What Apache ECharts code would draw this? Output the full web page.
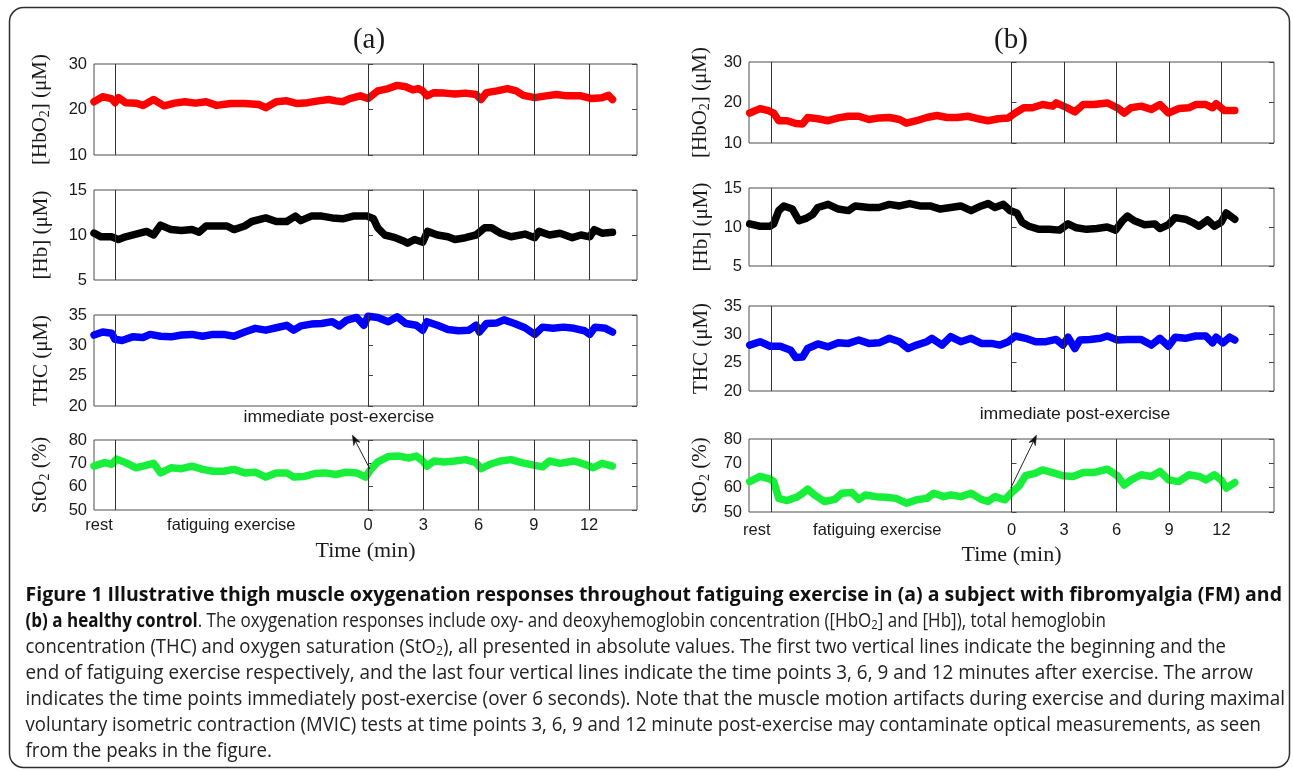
<!DOCTYPE html>
<html>
<head>
<meta charset="utf-8">
<script src="https://cdn.jsdelivr.net/npm/echarts@6/dist/echarts.min.js"></script>
<style>
  html, body { margin: 0; padding: 0; background: #ffffff; }
  #fig { width: 1293px; height: 771px; }
</style>
</head>
<body>
<div id="fig"></div>
<script>
// ---------------- data: time in minutes (negative = during exercise) ----------------
const xTickValues = [0, 3, 6, 9, 12];
const tRangeA = [-14.87, 14.6];
const tRangeB = [-15, 15];
const eventLinesA = [-13.7, 0, 3, 6, 9, 12];
const eventLinesB = [-13.75, 0, 3, 6, 9, 12];
const phaseLabelsA = [{ t: -14.6, text: 'rest' }, { t: -7.42, text: 'fatiguing exercise' }];
const phaseLabelsB = [{ t: -14.55, text: 'rest' }, { t: -7.67, text: 'fatiguing exercise' }];

const hbo2Ticks = [10, 20, 30];
const hbTicks = [5, 10, 15];
const thcTicks = [20, 25, 30, 35];
const sto2Ticks = [50, 60, 70, 80];

// (a) subject with fibromyalgia
const hbo2A = [[-14.87,21.7],[-14.40,22.8],[-13.92,22.4],[-13.73,21.5],[-13.54,22.6],[-13.16,21.5],[-12.59,21.4],[-12.21,20.9],[-11.64,22.2],[-11.07,20.8],[-10.50,21.4],[-9.93,21.7],[-9.36,21.4],[-8.79,21.7],[-8.22,20.9],[-7.46,21.3],[-6.69,21.3],[-5.93,21.1],[-5.55,20.4],[-4.98,21.7],[-4.41,21.9],[-3.84,21.3],[-3.27,21.5],[-2.70,21.9],[-2.13,22.2],[-1.75,21.9],[-1.37,21.7],[-0.99,22.4],[-0.42,23.0],[0,22.4],[0.53,24.1],[1.10,24.6],[1.58,25.3],[2.05,25.0],[2.43,24.3],[2.72,24.6],[2.97,24.1],[3.20,23.0],[3.58,23.7],[4.15,23.6],[4.72,23.4],[5.29,23.6],[5.86,23.3],[6.14,22.2],[6.43,23.7],[7.00,24.1],[7.57,24.6],[8.04,24.1],[8.43,23.1],[9.05,22.6],[9.66,23.0],[10.23,23.3],[10.80,23.0],[11.56,23.0],[12.13,22.4],[12.70,22.6],[13.05,23.1],[13.27,22.2]];
const hbA = [[-14.87,10.2],[-14.49,9.8],[-13.92,9.8],[-13.54,9.5],[-13.16,9.8],[-12.59,10.1],[-12.02,10.4],[-11.64,10.0],[-11.26,11.1],[-10.69,10.6],[-10.12,10.5],[-9.55,10.6],[-9.17,10.3],[-8.79,11.0],[-8.22,11.0],[-7.65,11.0],[-7.27,10.6],[-6.69,11.0],[-6.31,11.5],[-5.55,11.9],[-4.98,11.5],[-4.41,11.5],[-3.94,12.1],[-3.65,11.6],[-3.08,12.1],[-2.51,12.1],[-1.94,11.9],[-1.37,11.8],[-0.80,12.1],[-0.04,12.1],[0.30,11.8],[0.53,10.8],[0.91,10.0],[1.48,9.7],[1.86,9.4],[2.15,9.1],[2.53,9.5],[2.97,9.2],[3.23,10.4],[3.77,10.0],[4.34,9.8],[4.72,9.5],[5.29,9.7],[5.86,10.0],[6.33,10.8],[6.71,10.8],[7.19,10.2],[7.76,9.8],[8.52,10.1],[9.05,9.7],[9.28,10.4],[9.85,10.0],[10.42,10.2],[11.09,9.7],[11.56,10.0],[12.04,9.8],[12.28,10.6],[12.70,10.2],[13.27,10.3]];
const thcA = [[-14.87,31.7],[-14.40,32.2],[-13.92,32.0],[-13.73,31.0],[-13.35,30.8],[-12.78,31.4],[-12.21,31.3],[-11.83,31.8],[-11.26,31.5],[-10.69,31.4],[-10.12,31.7],[-9.55,31.8],[-8.98,31.5],[-8.41,31.8],[-7.84,31.8],[-7.27,31.5],[-6.69,32.2],[-6.12,32.8],[-5.55,32.5],[-4.98,32.9],[-4.41,33.3],[-4.03,32.5],[-3.65,33.2],[-3.08,33.5],[-2.51,33.6],[-1.94,33.9],[-1.56,33.2],[-1.18,34.1],[-0.61,34.6],[-0.23,33.3],[0,34.8],[0.53,34.6],[1.10,33.9],[1.58,34.7],[2.05,33.6],[2.62,33.3],[2.97,32.5],[3.20,33.9],[3.77,33.3],[4.34,32.6],[4.91,32.4],[5.48,32.5],[5.86,33.3],[6.05,32.2],[6.43,33.6],[7.00,33.7],[7.38,34.2],[7.95,33.6],[8.52,32.9],[9.05,31.8],[9.47,33.0],[10.04,32.8],[10.61,33.0],[11.18,32.8],[11.75,32.4],[12.04,31.8],[12.32,33.0],[12.89,32.8],[13.27,32.2]];
const sto2A = [[-14.87,68.8],[-14.30,70.3],[-13.92,69.6],[-13.64,71.8],[-13.16,70.3],[-12.59,68.1],[-12.21,68.8],[-11.64,70.0],[-11.26,65.9],[-10.69,68.1],[-10.12,67.7],[-9.55,68.8],[-8.98,67.4],[-8.41,66.6],[-7.84,66.6],[-7.27,67.4],[-6.69,65.9],[-6.12,66.2],[-5.55,64.1],[-4.98,65.9],[-4.41,65.9],[-4.03,64.1],[-3.46,64.4],[-2.89,65.6],[-2.32,65.9],[-1.75,65.2],[-1.18,66.2],[-0.61,65.9],[-0.13,64.1],[0.15,67.4],[0.53,70.6],[1.10,72.9],[1.67,73.1],[2.24,72.3],[2.62,73.1],[2.97,71.0],[3.20,68.8],[3.58,71.0],[4.15,70.6],[4.72,71.0],[5.29,71.6],[5.86,70.3],[6.14,67.7],[6.62,69.6],[7.19,71.0],[7.76,71.6],[8.33,70.3],[9.05,69.1],[9.47,68.5],[9.85,71.0],[10.42,70.0],[11.18,71.0],[11.75,69.6],[12.22,68.1],[12.70,70.0],[13.27,68.8]];

// (b) healthy control
const hbo2B = [[-14.96,17.4],[-14.37,18.5],[-13.89,18.0],[-13.59,17.4],[-13.30,15.5],[-12.82,15.5],[-12.33,14.8],[-11.94,14.7],[-11.65,16.3],[-11.07,16.0],[-10.48,15.5],[-9.90,16.2],[-9.32,16.6],[-8.73,16.6],[-8.15,15.8],[-7.57,16.2],[-6.98,16.3],[-6.40,15.8],[-6.01,14.9],[-5.43,15.5],[-4.84,16.3],[-4.26,16.8],[-3.68,16.3],[-3.09,16.3],[-2.51,16.6],[-1.93,16.0],[-1.34,15.5],[-0.76,16.0],[-0.18,16.2],[0.21,17.4],[0.70,18.7],[1.19,18.7],[1.77,19.5],[2.35,19.1],[2.55,19.9],[3.13,18.8],[3.62,17.7],[4.10,19.5],[4.69,19.5],[5.47,19.9],[6.05,18.7],[6.44,17.4],[6.83,18.7],[7.41,19.1],[7.99,18.3],[8.48,19.5],[8.97,17.4],[9.55,18.5],[10.13,18.7],[10.52,19.5],[11.11,19.5],[11.49,18.7],[11.69,19.7],[12.17,18.0],[12.76,18.0]];
const hbB = [[-14.96,10.4],[-14.37,10.1],[-13.79,10.1],[-13.59,10.4],[-13.30,12.1],[-13.01,12.7],[-12.52,12.3],[-12.14,10.8],[-11.75,11.1],[-11.36,11.6],[-11.07,12.5],[-10.48,12.9],[-9.90,12.3],[-9.32,12.1],[-8.93,12.7],[-8.15,12.5],[-7.57,12.5],[-6.98,12.9],[-6.40,12.7],[-5.82,13.0],[-5.23,12.7],[-4.65,12.7],[-4.07,12.3],[-3.48,12.5],[-2.90,12.7],[-2.31,12.1],[-1.73,12.7],[-1.34,13.0],[-0.95,12.5],[-0.47,12.9],[-0.08,12.1],[0.31,11.8],[0.60,10.6],[0.99,10.1],[1.58,9.7],[2.16,9.7],[2.74,9.6],[3.23,10.4],[3.71,9.9],[4.30,9.7],[4.88,9.8],[5.47,10.0],[5.95,9.6],[6.34,10.8],[6.63,11.4],[7.02,10.8],[7.60,10.3],[8.19,10.4],[8.48,9.8],[8.97,10.3],[9.35,11.2],[9.94,11.0],[10.33,10.6],[10.72,10.1],[11.20,10.9],[11.59,10.1],[11.98,10.6],[12.27,11.8],[12.76,11.0]];
const thcB = [[-14.96,28.1],[-14.37,28.7],[-13.79,27.9],[-13.21,27.9],[-12.62,27.2],[-12.33,25.9],[-11.94,26.0],[-11.65,27.5],[-11.07,28.3],[-10.48,27.8],[-9.90,28.5],[-9.32,28.4],[-8.73,29.0],[-8.15,28.4],[-7.57,28.5],[-6.98,29.3],[-6.40,28.7],[-5.91,27.5],[-5.43,28.1],[-4.84,28.7],[-4.55,29.3],[-3.97,28.1],[-3.48,29.6],[-2.90,28.7],[-2.31,29.3],[-1.73,28.4],[-1.15,28.4],[-0.66,28.1],[-0.18,28.7],[0.21,29.7],[0.80,29.3],[1.38,28.7],[1.96,28.7],[2.55,29.1],[2.94,28.1],[3.23,29.5],[3.62,27.5],[3.91,29.0],[4.49,29.1],[5.08,29.3],[5.47,29.7],[6.05,29.0],[6.63,29.1],[7.41,29.1],[7.99,28.1],[8.48,29.3],[8.97,27.9],[9.35,29.5],[9.94,29.3],[10.52,29.7],[11.11,29.7],[11.49,28.5],[11.69,29.5],[12.08,28.5],[12.47,29.5],[12.76,29.0]];
const sto2B = [[-14.96,62.5],[-14.37,64.6],[-13.79,63.5],[-13.59,62.5],[-13.30,55.6],[-12.82,54.7],[-12.23,56.3],[-11.94,57.7],[-11.65,59.4],[-11.26,57.0],[-10.68,54.3],[-10.09,55.2],[-9.70,57.7],[-9.12,58.0],[-8.73,55.2],[-8.34,57.0],[-7.76,56.3],[-7.18,56.1],[-6.59,55.6],[-6.01,53.6],[-5.43,55.0],[-4.84,55.6],[-4.45,57.7],[-3.87,56.3],[-3.48,57.0],[-2.90,56.3],[-2.31,57.7],[-1.73,55.2],[-1.34,54.3],[-0.95,56.3],[-0.37,55.0],[0,58.0],[0.41,60.5],[0.80,64.9],[1.38,66.0],[1.77,67.3],[2.35,66.2],[2.94,64.9],[3.52,64.6],[4.10,66.2],[4.69,66.2],[5.47,67.6],[6.05,64.9],[6.44,61.1],[6.83,63.2],[7.41,65.3],[7.99,64.6],[8.48,66.7],[8.97,63.2],[9.55,62.5],[10.13,65.3],[10.72,64.6],[11.11,63.2],[11.59,65.3],[11.98,63.2],[12.27,59.8],[12.76,62.1]];

// annotation anchors, in StO2-panel data units [t, %]
const postExerciseNoteA = { text: [-1.58, 89.4], tail: [0.1, 67.6], head: [-0.85, 82.1] };
const postExerciseNoteB = { text: [3.63, 89.9], tail: [-0.04, 59.9], head: [1.43, 81.6] };

const captionLines = [
  '{b|Figure 1 Illustrative thigh muscle oxygenation responses throughout fatiguing exercise in (a) a subject with fibromyalgia (FM) and}',
  '{b|(b) a healthy control}{r|. The oxygenation responses include oxy- and deoxyhemoglobin concentration ([HbO}{s|2}{r|] and [Hb]), total hemoglobin}',
  '{r|concentration (THC) and oxygen saturation (StO}{s|2}{r|), all presented in absolute values. The first two vertical lines indicate the beginning and the}',
  '{r|end of fatiguing exercise respectively, and the last four vertical lines indicate the time points 3, 6, 9 and 12 minutes after exercise. The arrow}',
  '{r|indicates the time points immediately post-exercise (over 6 seconds). Note that the muscle motion artifacts during exercise and during maximal}',
  '{r|voluntary isometric contraction (MVIC) tests at time points 3, 6, 9 and 12 minute post-exercise may contaminate optical measurements, as seen}',
  '{r|from the peaks in the figure.}'
];

// ---------------- styling / layout ----------------
const SANS = "'Liberation Sans', Arial, Helvetica, sans-serif";
const SERIF = "'Liberation Serif', 'Times New Roman', Times, serif";
const CAPTION_FONT = "'Open Sans', 'Noto Sans', sans-serif";
const INK = '#1a1a1a';

// caption typesetting: left edge, first line centre, leading and the right edge each line is set to
const captionBox = { left: 25.5, top: 595, leading: 26.1, lineEnds: [1282, 1106, 1226, 1253, 1285, 1261, 272] };
const captionRich = {
  b: { fontFamily: CAPTION_FONT, fontSize: 19.5, fontWeight: 'bold', fill: '#111' },
  r: { fontFamily: CAPTION_FONT, fontSize: 19.5, fontWeight: 'normal', fill: '#222' },
  s: { fontFamily: CAPTION_FONT, fontSize: 13, fontWeight: 'normal', fill: '#222', padding: [8, 0, 0, 0] }
};

const quantities = [
  { name: '{t|[HbO}{s|2}{t|] (μM)}', ticks: hbo2Ticks, color: '#ff0000' },
  { name: '{t|[Hb] (μM)}', ticks: hbTicks, color: '#000000' },
  { name: '{t|THC (μM)}', ticks: thcTicks, color: '#0000ff' },
  { name: '{t|StO}{s|2}{t| (%)}', ticks: sto2Ticks, color: '#18ef3a' }
];

const panels = [
  { series: [hbo2A, hbA, thcA, sto2A], tRange: tRangeA, events: eventLinesA, phases: phaseLabelsA, note: postExerciseNoteA,
    label: '(a)', layout: { left: 94, width: 543, rows: [[64, 91], [190, 90], [315, 91], [440, 70]], nameGap: 42, xNameGap: 30, xLabelMargin: 7, titleX: 369 } },
  { series: [hbo2B, hbB, thcB, sto2B], tRange: tRangeB, events: eventLinesB, phases: phaseLabelsB, note: postExerciseNoteB,
    label: '(b)', layout: { left: 749, width: 525, rows: [[62, 81], [188, 78], [306, 85], [439, 73]], nameGap: 37, xNameGap: 32, xLabelMargin: 10, titleX: 1011 } }
];

const grids = [], xAxes = [], yAxesLeft = [], yAxesRight = [], seriesList = [];

panels.forEach((panel) => {
  const L = panel.layout;
  quantities.forEach((q, r) => {
    const gi = grids.length;
    const last = r === quantities.length - 1;
    grids.push({ left: L.left, top: L.rows[r][0], width: L.width, height: L.rows[r][1],
      show: true, borderColor: '#4d4d4d', borderWidth: 1, backgroundColor: 'transparent' });

    const phaseByT = new Map(panel.phases.map(ph => [ph.t, ph.text]));
    xAxes.push({
      gridIndex: gi, type: 'value', min: panel.tRange[0], max: panel.tRange[1],
      axisLine: { show: false }, splitLine: { show: false },
      axisTick: last ? { show: true, inside: true, length: 4, customValues: xTickValues, lineStyle: { color: '#444' } } : { show: false },
      axisLabel: last ? {
        show: true, margin: L.xLabelMargin, fontFamily: SANS, fontSize: 16.5, color: INK,
        customValues: panel.phases.map(ph => ph.t).concat(xTickValues),
        formatter: v => (phaseByT.has(v) ? phaseByT.get(v) : String(v))
      } : { show: false },
      name: last ? 'Time (min)' : '', nameLocation: 'middle', nameGap: L.xNameGap,
      nameTextStyle: { fontFamily: SERIF, fontSize: 22, color: INK }
    });

    const yCommon = {
      gridIndex: gi, type: 'value', min: q.ticks[0], max: q.ticks[q.ticks.length - 1], interval: q.ticks[1] - q.ticks[0],
      axisLine: { show: false }, splitLine: { show: false },
      axisTick: { show: true, inside: true, length: 5, lineStyle: { color: '#444' } }
    };
    yAxesLeft.push(Object.assign({}, yCommon, {
      position: 'left',
      axisLabel: { margin: 7, fontFamily: SANS, fontSize: 16.5, color: INK },
      name: q.name, nameLocation: 'middle', nameRotate: 90, nameGap: L.nameGap,
      nameTextStyle: { rich: {
        t: { fontFamily: SERIF, fontSize: 21, color: INK },
        s: { fontFamily: SERIF, fontSize: 14, color: INK, padding: [9, 0, 0, 0] }
      } }
    }));
    yAxesRight.push(Object.assign({}, yCommon, { position: 'right', axisLabel: { show: false } }));

    seriesList.push({
      type: 'line', xAxisIndex: gi, yAxisIndex: gi, data: panel.series[r],
      showSymbol: false, symbol: 'none', animation: false, silent: true,
      lineStyle: { color: q.color, width: 7.5, cap: 'round', join: 'round' },
      markLine: {
        silent: true, animation: false, symbol: ['none', 'none'], label: { show: false },
        lineStyle: { color: '#333', width: 1, type: 'solid' },
        data: panel.events.map(t => ({ xAxis: t }))
      }
    });
  });
});

// natural width of a rich caption line, used to set each line to its measure
const measureCtx = document.createElement('canvas').getContext('2d');
function richWidth(line) {
  let w = 0;
  line.replace(/\{(\w+)\|([^}]*)\}/g, (m, key, txt) => {
    const st = captionRich[key];
    measureCtx.font = (st.fontWeight === 'bold' ? 'bold ' : '') + st.fontSize + 'px ' + st.fontFamily;
    w += measureCtx.measureText(txt).width;
    return m;
  });
  return w;
}

const staticGraphics = [
  { id: 'frame', type: 'rect', silent: true, z: 0,
    shape: { x: 9.5, y: 7.5, width: 1280, height: 760, r: 14 },
    style: { fill: 'none', stroke: '#2e2e2e', lineWidth: 1.5 } }
];
panels.forEach((panel, p) => {
  staticGraphics.push({ id: 'title' + p, type: 'text', silent: true, x: panel.layout.titleX, y: 40,
    style: { text: panel.label, align: 'center', verticalAlign: 'middle', fontFamily: SERIF, fontSize: 29, fill: INK } });
});
captionLines.forEach((line, i) => {
  const target = captionBox.lineEnds[i] - captionBox.left;
  staticGraphics.push({ id: 'cap' + i, type: 'text', silent: true,
    x: captionBox.left, y: captionBox.top + i * captionBox.leading,
    scaleX: target / richWidth(line),
    style: { text: line, align: 'left', verticalAlign: 'middle', fill: INK, rich: captionRich } });
});

const chart = echarts.init(document.getElementById('fig'), null, { renderer: 'canvas' });
chart.setOption({
  backgroundColor: '#ffffff',
  animation: false,
  grid: grids,
  xAxis: xAxes,
  yAxis: yAxesLeft.concat(yAxesRight),
  series: seriesList,
  graphic: staticGraphics
});

// "immediate post-exercise" notes with arrows, placed through the StO2 axes
const noteGraphics = [];
panels.forEach((panel, p) => {
  const si = p * quantities.length + (quantities.length - 1);
  const toPx = v => chart.convertToPixel({ seriesIndex: si }, v);
  const txt = toPx(panel.note.text), tail = toPx(panel.note.tail), head = toPx(panel.note.head);
  const dx = head[0] - tail[0], dy = head[1] - tail[1];
  const len = Math.hypot(dx, dy), ux = dx / len, uy = dy / len, nx = -uy, ny = ux;
  const HL = 10, HW = 3.6;
  const bx = head[0] - ux * HL, by = head[1] - uy * HL;
  const notch = [head[0] - ux * HL * 0.7, head[1] - uy * HL * 0.7];
  noteGraphics.push(
    { id: 'noteText' + p, type: 'text', silent: true, x: txt[0], y: txt[1], scaleX: 1.1,
      style: { text: 'immediate post-exercise', align: 'center', verticalAlign: 'middle', fontFamily: SANS, fontSize: 16, fill: INK } },
    { id: 'noteLine' + p, type: 'line', silent: true, z: 10,
      shape: { x1: tail[0], y1: tail[1], x2: notch[0], y2: notch[1] }, style: { stroke: '#222', lineWidth: 1 } },
    { id: 'noteHead' + p, type: 'polygon', silent: true, z: 10,
      shape: { points: [[head[0], head[1]], [bx + nx * HW, by + ny * HW], notch, [bx - nx * HW, by - ny * HW]] },
      style: { fill: '#111', stroke: '#111', lineWidth: 0.5 } }
  );
});
chart.setOption({ graphic: noteGraphics });
</script>
</body>
</html>
